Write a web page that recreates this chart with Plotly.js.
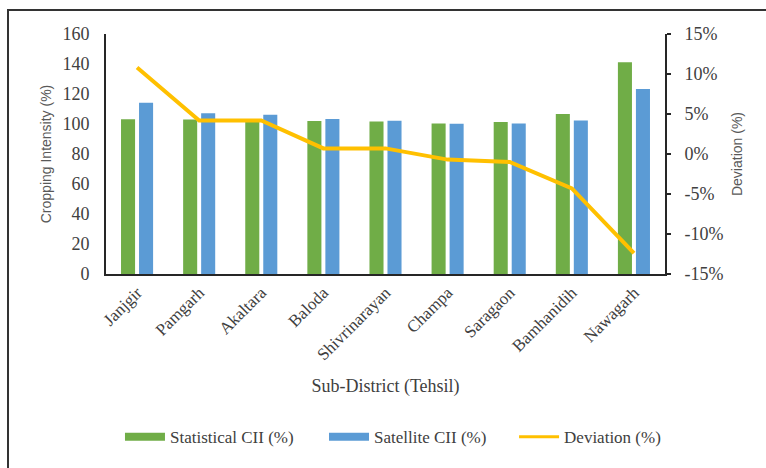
<!DOCTYPE html>
<html>
<head>
<meta charset="utf-8">
<script src="https://cdn.plot.ly/plotly-3.0.1.min.js"></script>
<style>
  html, body { margin: 0; padding: 0; background: #fff; }
  #chart { width: 766px; height: 468px; }
</style>
</head>
<body>
<div id="chart"></div>
<script>
// Sub-districts (tehsils) along the x axis
const tehsils = ["Janjgir", "Pamgarh", "Akaltara", "Baloda", "Shivrinarayan",
                 "Champa", "Saragaon", "Bamhanidih", "Nawagarh"];

// Cropping intensity index from statistics and from satellite data (%)
const statisticalCII = [103.1, 103.0, 102.7, 102.0, 101.6, 100.4, 101.3, 106.7, 141.1];
const satelliteCII   = [114.2, 107.1, 106.2, 103.3, 102.2, 100.2, 100.4, 102.4, 123.3];

// Deviation between the two estimates (%)
const deviation = [10.8, 4.2, 4.2, 0.7, 0.7, -0.7, -1.0, -4.3, -12.4];

// Axis ticks
const ciiTicks = [0, 20, 40, 60, 80, 100, 120, 140, 160];
const devTickVals = [-15, -10, -5, 0, 5, 10, 15];
const devTickText = ["-15%", "-10%", "-5%", "0%", "5%", "10%", "15%"];

const GREEN = "#70AD47", BLUE = "#5B9BD5", GOLD = "#FFC000";
const SERIF = "Liberation Serif, Times New Roman, serif";
const SANS = "Liberation Sans, Arial, sans-serif";

const traces = [
  { type: "bar", x: tehsils, y: statisticalCII, name: "Statistical CII (%)",
    marker: { color: GREEN }, showlegend: false, legendgroup: "stat" },
  { type: "bar", x: tehsils, y: satelliteCII, name: "Satellite CII (%)",
    marker: { color: BLUE }, showlegend: false, legendgroup: "sat" },
  { type: "scatter", mode: "lines", x: tehsils, y: deviation, yaxis: "y2",
    name: "Deviation (%)", line: { color: GOLD, width: 4 }, showlegend: false,
    legendgroup: "dev" },
  // legend keys drawn as wide flat swatches, one legend box per key
  { type: "scatter", mode: "lines", x: [null], y: [null], name: "Statistical CII (%)",
    line: { color: GREEN, width: 8 }, legendgroup: "stat", legend: "legend" },
  { type: "scatter", mode: "lines", x: [null], y: [null], name: "Satellite CII (%)",
    line: { color: BLUE, width: 8 }, legendgroup: "sat", legend: "legend2" },
  { type: "scatter", mode: "lines", x: [null], y: [null], name: "Deviation (%)",
    line: { color: GOLD, width: 3 }, legendgroup: "dev", yaxis: "y2", legend: "legend3" }
];

function legendAt(x) {
  return {
    orientation: "h", x: x, xanchor: "left", y: -0.68, yanchor: "middle",
    font: { family: SERIF, size: 17, color: "#404040" },
    itemwidth: 40, bgcolor: "rgba(0,0,0,0)", borderwidth: 0,
    itemclick: false, itemdoubleclick: false
  };
}

const layout = {
  width: 766, height: 468,
  margin: { l: 106, r: 101, t: 34, b: 194 },
  paper_bgcolor: "#fff", plot_bgcolor: "#fff",
  barmode: "group", bargap: 0.42, bargroupgap: 0.22,
  showlegend: true,
  legend: legendAt(0.025),
  legend2: legendAt(0.390),
  legend3: legendAt(0.730),
  xaxis: {
    type: "category", tickangle: -45, showgrid: false, zeroline: false,
    showline: true, linecolor: "#262626", linewidth: 2, ticks: "",
    tickfont: { family: SERIF, size: 17, color: "#404040" },
    title: { text: "Sub-District (Tehsil)", standoff: 16,
             font: { family: SERIF, size: 18, color: "#404040" } },
    fixedrange: true
  },
  yaxis: {
    range: [0, 160], tickvals: ciiTicks, showgrid: false, zeroline: false,
    showline: true, linecolor: "#262626", linewidth: 2, ticks: "",
    ticklabelstandoff: 11,
    tickfont: { family: SERIF, size: 18, color: "#404040" },
    title: { text: "Cropping Intensity (%)", standoff: 8,
             font: { family: SANS, size: 14, color: "#595959" } },
    fixedrange: true
  },
  yaxis2: {
    overlaying: "y", side: "right", range: [-15, 15],
    tickvals: devTickVals, ticktext: devTickText,
    showgrid: false, zeroline: false,
    showline: true, linecolor: "#262626", linewidth: 2,
    ticks: "outside", ticklen: 4, tickwidth: 2, tickcolor: "#262626",
    ticklabelstandoff: 10,
    tickfont: { family: SERIF, size: 18, color: "#404040" },
    title: { text: "Deviation (%)", standoff: 10,
             font: { family: SANS, size: 14, color: "#595959" } },
    fixedrange: true
  },
  shapes: [
    // outer frame around the figure, open on the right and bottom
    { type: "rect", xref: "paper", yref: "paper",
      x0: -0.1753, x1: 1.5, y0: -1.5, y1: 1.1,
      line: { color: "#333", width: 2 }, fillcolor: "rgba(0,0,0,0)", layer: "below" }
  ]
};

Plotly.newPlot("chart", traces, layout, { displayModeBar: false, staticPlot: true });
</script>
</body>
</html>
